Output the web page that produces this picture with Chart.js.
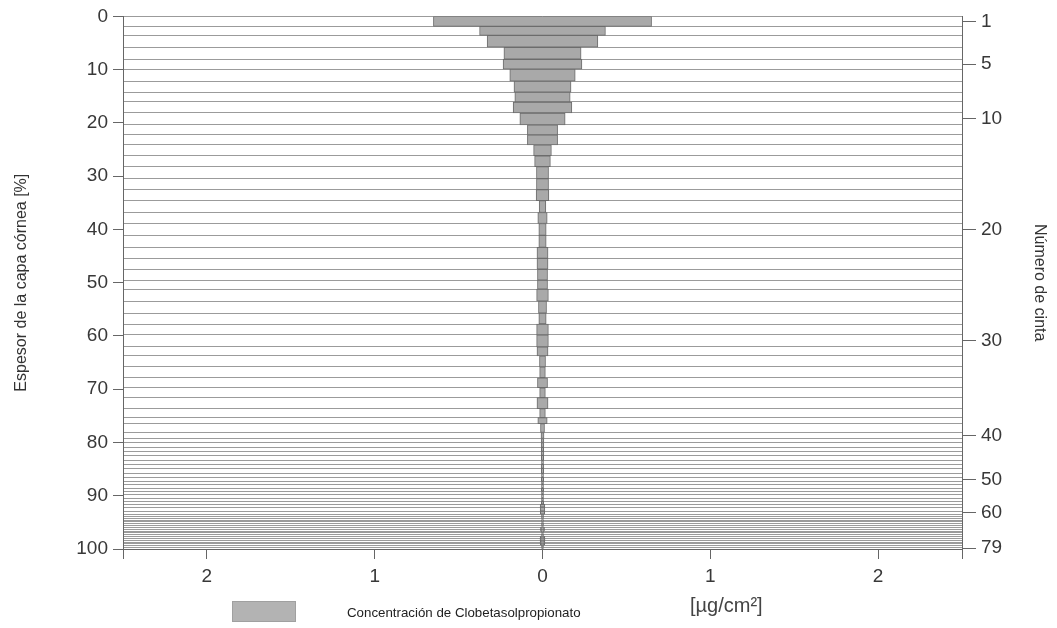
<!DOCTYPE html>
<html>
<head>
<meta charset="utf-8">
<script src="https://cdn.jsdelivr.net/npm/chart.js@4/dist/chart.umd.min.js"></script>
<style>
  body { margin: 0; background: #fff; }
</style>
</head>
<body>
<canvas id="chart" width="1057" height="628"></canvas>
<script>
// tape boundaries, % of stratum corneum thickness (80 values -> 79 tapes)
const tapeBounds = [0, 1.87, 3.55, 5.79, 8.04, 9.91, 12.15, 14.21, 16.07, 18.13, 20.37,
    22.24, 24.11, 26.17, 28.22, 30.47, 32.52, 34.58, 36.82, 38.88, 41.12,
    43.36, 45.42, 47.48, 49.53, 51.21, 53.46, 55.70, 57.76, 59.81, 62.06,
    63.74, 65.79, 67.85, 69.72, 71.59, 73.64, 75.33, 76.45, 78.13, 79.25,
    80.0, 80.93, 81.68, 82.43, 83.36, 84.11, 84.86, 85.79, 86.54, 87.29,
    87.85, 88.60, 89.16, 89.72, 90.47, 91.03, 91.59, 92.15, 92.90, 93.46,
    93.83, 94.21, 94.58, 94.77, 95.14, 95.51, 95.89, 96.26, 96.64, 96.82,
    97.20, 97.57, 97.94, 98.32, 98.69, 98.88, 99.25, 99.63, 100];

// concentration per tape [µg/cm²], drawn symmetric around 0
const concentration = [0.65, 0.375, 0.33, 0.23, 0.235, 0.195, 0.17, 0.165, 0.175, 0.135,
    0.09, 0.09, 0.053, 0.047, 0.036, 0.036, 0.038, 0.02, 0.028, 0.022,
    0.022, 0.033, 0.033, 0.03, 0.03, 0.035, 0.024, 0.022, 0.035, 0.035,
    0.033, 0.018, 0.017, 0.03, 0.017, 0.033, 0.017, 0.028, 0.012, 0.009,
    0.008, 0.008, 0.007, 0.008, 0.007, 0.006, 0.008, 0.007, 0.006, 0.007,
    0.006, 0.006, 0.007, 0.006, 0.006, 0.006, 0.007, 0.014, 0.014, 0.013,
    0.006, 0.006, 0.005, 0.006, 0.005, 0.006, 0.005, 0.012, 0.012, 0.006,
    0.005, 0.006, 0.014, 0.015, 0.014, 0.015, 0.013, 0.006, 0.005];

const tapeLabels = [1, 5, 10, 20, 30, 40, 50, 60, 79];
const xTickValues = [-2.5, -2, -1, 0, 1, 2, 2.5];

const seriesLabel = 'Concentración de Clobetasolpropionato';
const unitLabel = '[µg/cm²]';

const barFill = '#a9a9a9';
const barBorder = '#6c6c6c';
const lineColor = '#9b9b9b';
const axisColor = '#666';
const textColor = '#383838';

Chart.defaults.font.family = '"Liberation Sans", Arial, sans-serif';

const datasets = concentration.map((c, i) => ({
    label: seriesLabel,
    data: [{x: [-c, c], y: (tapeBounds[i] + tapeBounds[i + 1]) / 2}],
    backgroundColor: barFill,
    borderColor: barBorder,
    borderWidth: 1,
    borderSkipped: false,
    grouped: false,
    barThickness: function (ctx) {
        const s = ctx.chart.scales.y;
        const k = ctx.datasetIndex;
        return Math.max(1, Math.abs(s.getPixelForValue(tapeBounds[k + 1]) - s.getPixelForValue(tapeBounds[k])));
    }
}));

// legend box, series name and unit under the x axis
const legendRow = {
    id: 'legendRow',
    afterDraw(chart) {
        const ctx = chart.ctx;
        ctx.save();
        ctx.fillStyle = '#b3b3b3';
        ctx.fillRect(232, 601, 64, 21);
        ctx.strokeStyle = '#a0a0a0';
        ctx.lineWidth = 1;
        ctx.strokeRect(232.5, 601.5, 63, 20);
        ctx.textBaseline = 'middle';
        ctx.fillStyle = '#222';
        ctx.font = '13.3px "Liberation Sans", Arial, sans-serif';
        ctx.fillText(seriesLabel, 347, 613);
        ctx.fillStyle = '#444';
        ctx.font = '20px "Liberation Sans", Arial, sans-serif';
        ctx.fillText(unitLabel, 690, 606);
        ctx.restore();
    }
};

// every y scale in a horizontal bar chart inherits the index-axis offset, switch it off
const yBase = {type: 'linear', min: 0, max: 100, reverse: true, offset: false};

new Chart(document.getElementById('chart'), {
    type: 'bar',
    data: {datasets: datasets},
    options: {
        responsive: false,
        animation: false,
        indexAxis: 'y',
        layout: {padding: {left: 4, top: 14, right: 0, bottom: 0}},
        plugins: {
            legend: {display: false},
            tooltip: {enabled: false}
        },
        scales: {
            x: {
                type: 'linear',
                min: -2.5,
                max: 2.5,
                afterBuildTicks: s => { s.ticks = xTickValues.map(v => ({value: v})); },
                afterFit: s => { s.height = 79; },
                ticks: {
                    color: textColor,
                    font: {size: 19},
                    padding: 6,
                    callback: v => (Math.abs(v) === 2.5 ? '' : String(Math.abs(v)))
                },
                grid: {drawOnChartArea: false, tickLength: 10, color: axisColor},
                border: {color: axisColor}
            },
            y: {
                ...yBase,
                position: 'left',
                afterFit: s => { s.width = 119; },
                ticks: {stepSize: 10, color: textColor, font: {size: 19}, padding: 5},
                grid: {offset: false, drawOnChartArea: false, tickLength: 10, color: axisColor},
                border: {color: axisColor},
                title: {
                    display: true,
                    text: 'Espesor de la capa córnea [%]',
                    color: '#333',
                    font: {size: 16},
                    padding: {top: 8, bottom: 4}
                }
            },
            yb: {
                ...yBase,
                position: 'left',
                afterBuildTicks: s => { s.ticks = tapeBounds.map(v => ({value: v})); },
                afterFit: s => { s.width = 0; },
                ticks: {display: false},
                grid: {offset: false, drawTicks: false, color: lineColor, lineWidth: 1},
                border: {display: false}
            },
            y2: {
                ...yBase,
                position: 'right',
                afterBuildTicks: s => {
                    s.ticks = tapeLabels.map(n => ({value: (tapeBounds[n - 1] + tapeBounds[n]) / 2}));
                },
                afterFit: s => { s.width = 95; },
                ticks: {
                    color: textColor,
                    font: {size: 19},
                    padding: 5,
                    callback: (v, i) => String(tapeLabels[i])
                },
                grid: {offset: false, drawOnChartArea: false, tickLength: 14, color: axisColor},
                border: {color: axisColor},
                title: {
                    display: true,
                    text: 'Número de cinta',
                    color: '#333',
                    font: {size: 16},
                    padding: {top: 8, bottom: 4}
                }
            }
        }
    },
    plugins: [legendRow]
});
</script>
</body>
</html>
